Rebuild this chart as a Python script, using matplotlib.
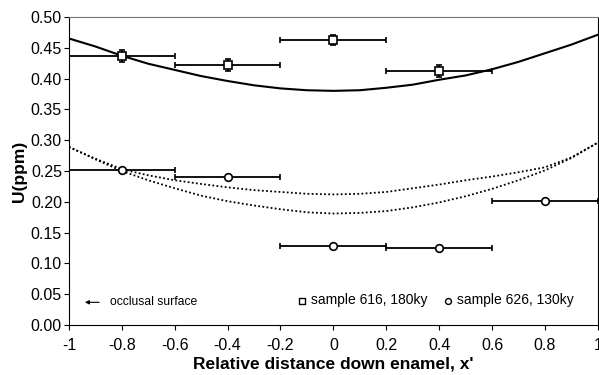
import matplotlib
matplotlib.use('Agg')
import matplotlib.pyplot as plt

plt.rcParams['font.family'] = ['Liberation Sans', 'DejaVu Sans']

# sample 616, 180ky (squares)
x616 = [-0.8, -0.4, 0.0, 0.4]
u616 = [0.437, 0.422, 0.463, 0.412]
uerr616 = [0.010, 0.010, 0.008, 0.010]
# sample 626, 130ky (circles)
x626 = [-0.8, -0.4, 0.0, 0.4, 0.8]
u626 = [0.252, 0.241, 0.128, 0.125, 0.202]
xerr = 0.2

# model curves
xc = [-1.0, -0.9, -0.8, -0.7, -0.6, -0.5, -0.4, -0.3, -0.2, -0.1, 0.0,
      0.1, 0.2, 0.3, 0.4, 0.5, 0.6, 0.7, 0.8, 0.9, 1.0]
u_solid = [0.465, 0.452, 0.437, 0.424, 0.414, 0.404, 0.396, 0.389, 0.384, 0.381, 0.380,
           0.381, 0.385, 0.390, 0.398, 0.405, 0.415, 0.427, 0.441, 0.455, 0.471]
u_dot_hi = [0.289, 0.270, 0.253, 0.243, 0.235, 0.229, 0.2235, 0.219, 0.216, 0.213, 0.212,
            0.213, 0.216, 0.222, 0.228, 0.235, 0.241, 0.248, 0.256, 0.272, 0.296]
u_dot_lo = [0.289, 0.269, 0.250, 0.235, 0.222, 0.210, 0.201, 0.194, 0.188, 0.183, 0.181,
            0.182, 0.185, 0.191, 0.199, 0.209, 0.221, 0.235, 0.251, 0.271, 0.296]

fig = plt.figure(figsize=(5.99, 3.75), dpi=100)
ax = fig.add_axes([0.115, 0.133, 0.883, 0.822])

ax.plot(xc, u_solid, color='black', lw=1.5)
ax.plot(xc, u_dot_hi, color='black', lw=1.3, ls=(0, (1, 1.3)))
ax.plot(xc, u_dot_lo, color='black', lw=1.3, ls=(0, (1, 1.3)))

ax.errorbar(x616, u616, xerr=xerr, yerr=uerr616, fmt='s', ms=6, mfc='white', mec='black',
            mew=1.2, ecolor='black', elinewidth=1.3, capsize=2.5, capthick=1.2, zorder=3)
ax.errorbar(x626, u626, xerr=xerr, fmt='o', ms=5.5, mfc='white', mec='black',
            mew=1.2, ecolor='black', elinewidth=1.3, capsize=2.5, capthick=1.2, zorder=3)

ax.set_xlim(-1, 1)
ax.set_ylim(0, 0.5)
ax.set_xticks([-1, -0.8, -0.6, -0.4, -0.2, 0, 0.2, 0.4, 0.6, 0.8, 1])
ax.set_xticklabels(['-1', '-0.8', '-0.6', '-0.4', '-0.2', '0', '0.2', '0.4', '0.6', '0.8', '1'])
ax.set_yticks([i * 0.05 for i in range(11)])
ax.set_yticklabels([f'{i * 0.05:.2f}' for i in range(11)])
ax.tick_params(direction='out', length=3.5, width=0.8, labelsize=11.5)
ax.tick_params(axis='x', pad=6)
ax.tick_params(axis='y', pad=1.5)
for s in ax.spines.values():
    s.set_linewidth(0.8)
ax.spines['top'].set_color('#777777')

ax.set_xlabel("Relative distance down enamel, x'", fontsize=12.5, fontweight='bold', labelpad=2)
ax.set_ylabel('U(ppm)', fontsize=12.5, fontweight='bold', labelpad=3)

# occlusal surface arrow
ax.annotate('', xy=(-0.95, 0.037), xytext=(-0.875, 0.037),
            arrowprops=dict(arrowstyle='-|>', color='black', lw=0.8, mutation_scale=6))
ax.text(-0.845, 0.037, 'occlusal surface', fontsize=8.7, va='center')

# legend
h1 = ax.scatter([], [], marker='s', s=18, facecolors='white', edgecolors='black', linewidths=1.0)
h2 = ax.scatter([], [], marker='o', s=18, facecolors='white', edgecolors='black', linewidths=1.0)
ax.legend([h1, h2], ['sample 616, 180ky', 'sample 626, 130ky'], ncol=2, frameon=False,
          loc='center right', bbox_to_anchor=(0.968, 0.081), fontsize=10, borderpad=0,
          handlelength=0.6, handletextpad=0.35, columnspacing=1.2)

fig.savefig('out.png', dpi=100)
